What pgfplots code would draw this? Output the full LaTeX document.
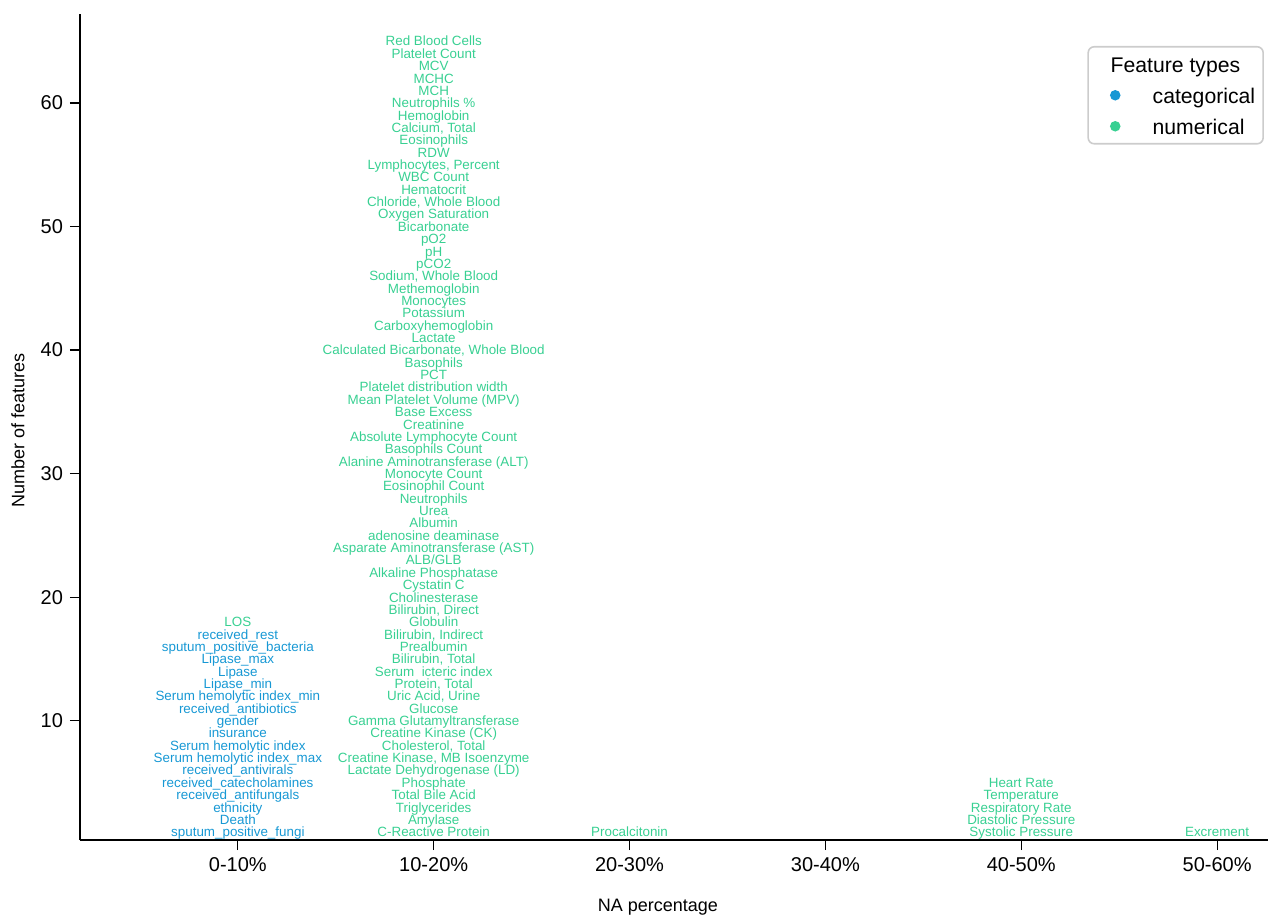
\documentclass[border=0pt]{standalone}
\usepackage{pgfplots}
\pgfplotsset{compat=1.18}
\usepackage{fontspec}
\setmainfont{Liberation Sans}
\definecolor{catc}{RGB}{23,152,212}
\definecolor{numc}{RGB}{56,208,146}
\begin{document}
\begin{tikzpicture}
\begin{axis}[
  scale only axis, width=594pt, height=413pt,
  xmin=-0.806, xmax=5.26, ymin=0.35, ymax=67.2,
  axis lines=left, axis line style={-, line width=1pt, black},
  xtick={0,1,2,3,4,5},
  xticklabels={0-10\%,10-20\%,20-30\%,30-40\%,40-50\%,50-60\%},
  ytick={10,20,30,40,50,60},
  tick align=outside, major tick length=5pt, tick style={black, line width=0.6pt},
  /pgf/number format/assume math mode=true,
  ticklabel style={font=\fontsize{10}{11}\selectfont},
  xlabel={NA percentage}, ylabel={Number of features},
  label style={font=\fontsize{9}{10}\selectfont},
  xlabel style={at={(axis description cs:0.4865,-0.081)}, anchor=center},
  ylabel style={at={(axis description cs:-0.0522,0.496)}, anchor=center},
  legend style={at={(axis description cs:0.9966,0.9613)}, anchor=north east,
    draw=black!20, line width=0.8pt, rounded corners=3pt,
    font=\fontsize{10.6}{12.7}\selectfont, row sep=0pt,
    inner xsep=2pt, inner ysep=1pt,
    cells={anchor=west, text height=10pt, text depth=0.5pt, inner ysep=2.25pt}},
  legend image post style={xshift=3pt},
  nodes near coords style={font=\fontsize{6.7}{7}\selectfont, inner sep=0pt,
    text height=4.8pt, text depth=0pt, anchor=center},
]
\addlegendimage{empty legend}\addlegendentry{\hspace{-6.5pt}Feature types}
\addlegendimage{only marks, mark=*, mark size=2.2pt, color=catc}\addlegendentry{\hspace{14.5pt}categorical}
\addlegendimage{only marks, mark=*, mark size=2.2pt, color=numc}\addlegendentry{\hspace{14.5pt}numerical}

% categorical features
\addplot[draw=none, mark=none, forget plot, point meta=explicit symbolic,
  nodes near coords, nodes near coords align={center},
  every node near coord/.append style={text=catc}] coordinates {
(0,1) [sputum\_positive\_fungi]
(0,2) [Death]
(0,3) [ethnicity]
(0,4) [received\_antifungals]
(0,5) [received\_catecholamines]
(0,6) [received\_antivirals]
(0,7) [Serum hemolytic index\_max]
(0,8) [Serum hemolytic index]
(0,9) [insurance]
(0,10) [gender]
(0,11) [received\_antibiotics]
(0,12) [Serum hemolytic index\_min]
(0,13) [Lipase\_min]
(0,14) [Lipase]
(0,15) [Lipase\_max]
(0,16) [sputum\_positive\_bacteria]
(0,17) [received\_rest]
};

% numerical features
\addplot[draw=none, mark=none, forget plot, point meta=explicit symbolic,
  nodes near coords, nodes near coords align={center},
  every node near coord/.append style={text=numc}] coordinates {
(0,18) [LOS]
(1,1) [C-Reactive Protein]
(1,2) [Amylase]
(1,3) [Triglycerides]
(1,4) [Total Bile Acid]
(1,5) [Phosphate]
(1,6) [Lactate Dehydrogenase (LD)]
(1,7) [{Creatine Kinase, MB Isoenzyme}]
(1,8) [{Cholesterol, Total}]
(1,9) [Creatine Kinase (CK)]
(1,10) [Gamma Glutamyltransferase]
(1,11) [Glucose]
(1,12) [{Uric Acid, Urine}]
(1,13) [{Protein, Total}]
(1,14) [Serum\ \ icteric index]
(1,15) [{Bilirubin, Total}]
(1,16) [Prealbumin]
(1,17) [{Bilirubin, Indirect}]
(1,18) [Globulin]
(1,19) [{Bilirubin, Direct}]
(1,20) [Cholinesterase]
(1,21) [Cystatin C]
(1,22) [Alkaline Phosphatase]
(1,23) [ALB/GLB]
(1,24) [Asparate Aminotransferase (AST)]
(1,25) [adenosine deaminase]
(1,26) [Albumin]
(1,27) [Urea]
(1,28) [Neutrophils]
(1,29) [Eosinophil Count]
(1,30) [Monocyte Count]
(1,31) [Alanine Aminotransferase (ALT)]
(1,32) [Basophils Count]
(1,33) [Absolute Lymphocyte Count]
(1,34) [Creatinine]
(1,35) [Base Excess]
(1,36) [Mean Platelet Volume (MPV)]
(1,37) [Platelet distribution width]
(1,38) [PCT]
(1,39) [Basophils]
(1,40) [{Calculated Bicarbonate, Whole Blood}]
(1,41) [Lactate]
(1,42) [Carboxyhemoglobin]
(1,43) [Potassium]
(1,44) [Monocytes]
(1,45) [Methemoglobin]
(1,46) [{Sodium, Whole Blood}]
(1,47) [pCO2]
(1,48) [pH]
(1,49) [pO2]
(1,50) [Bicarbonate]
(1,51) [Oxygen Saturation]
(1,52) [{Chloride, Whole Blood}]
(1,53) [Hematocrit]
(1,54) [WBC Count]
(1,55) [{Lymphocytes, Percent}]
(1,56) [RDW]
(1,57) [Eosinophils]
(1,58) [{Calcium, Total}]
(1,59) [Hemoglobin]
(1,60) [Neutrophils \%]
(1,61) [MCH]
(1,62) [MCHC]
(1,63) [MCV]
(1,64) [Platelet Count]
(1,65) [Red Blood Cells]
(2,1) [Procalcitonin]
(4,1) [Systolic Pressure]
(4,2) [Diastolic Pressure]
(4,3) [Respiratory Rate]
(4,4) [Temperature]
(4,5) [Heart Rate]
(5,1) [Excrement]
};
\end{axis}
\pgfresetboundingbox
\path[use as bounding box] (-40pt,-38.5pt) rectangle (594pt,420pt);
\end{tikzpicture}
\end{document}
